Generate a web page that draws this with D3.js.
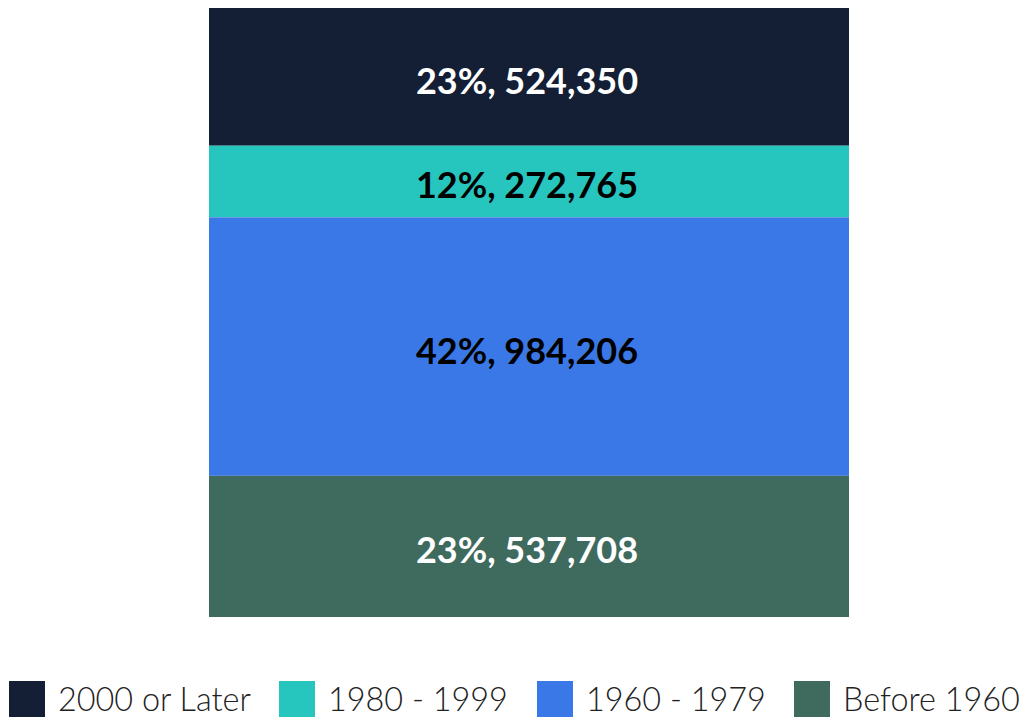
<!DOCTYPE html>
<html>
<head>
<meta charset="utf-8">
<script src="https://cdn.jsdelivr.net/npm/d3@7"></script>
<style>
  html, body { margin: 0; padding: 0; background: #fff; }
  svg { display: block; }
</style>
</head>
<body>
<svg id="chart" width="1024" height="728"></svg>
<script>
const categories = ["2000 or Later", "1980 - 1999", "1960 - 1979", "Before 1960"];
const values = [524350, 272765, 984206, 537708];
const percents = ["23%", "12%", "42%", "23%"];
const colors = ["#141f35", "#26c6bf", "#3b78e7", "#3f6b5f"];
const labelColors = ["#ffffff", "#000000", "#000000", "#ffffff"];

const svg = d3.select("#chart");
const total = d3.sum(values);
const x0 = 209, x1 = 849, yTop = 8, yBot = 617;

const y = d3.scaleLinear().domain([0, total]).range([yTop, yBot]);

let cum = 0;
const segs = values.map((v, i) => {
  const s = { i, start: cum, end: cum + v, v };
  cum += v;
  return s;
});

const fmt = d3.format(",");

svg.selectAll("rect.seg").data(segs).enter().append("rect")
  .attr("class", "seg")
  .attr("x", x0)
  .attr("width", x1 - x0)
  .attr("y", d => y(d.start))
  .attr("height", d => y(d.end) - y(d.start))
  .attr("fill", d => colors[d.i]);

svg.selectAll("text.lbl").data(segs).enter().append("text")
  .attr("class", "lbl")
  .attr("x", (x0 + x1) / 2 - 2)
  .attr("y", d => (y(d.start) + y(d.end)) / 2 + 4)
  .attr("dy", "0.36em")
  .attr("text-anchor", "middle")
  .attr("font-family", "Lato, sans-serif")
  .attr("font-weight", "bold")
  .attr("font-size", 36)
  .attr("fill", d => labelColors[d.i])
  .text(d => percents[d.i] + ", " + fmt(d.v));

// legend
const legendX = [9, 279, 537, 794];
const lg = svg.append("g");
categories.forEach((c, i) => {
  const g = lg.append("g").attr("transform", `translate(${legendX[i]},681)`);
  g.append("rect").attr("width", 36).attr("height", 36).attr("fill", colors[i]);
  g.append("text")
    .attr("x", 49).attr("y", 18).attr("dy", "0.36em")
    .attr("font-family", "Lato, sans-serif")
    .attr("font-weight", 300)
    .attr("font-size", 32.4)
    .attr("fill", "#222")
    .text(c);
});
</script>
</body>
</html>
